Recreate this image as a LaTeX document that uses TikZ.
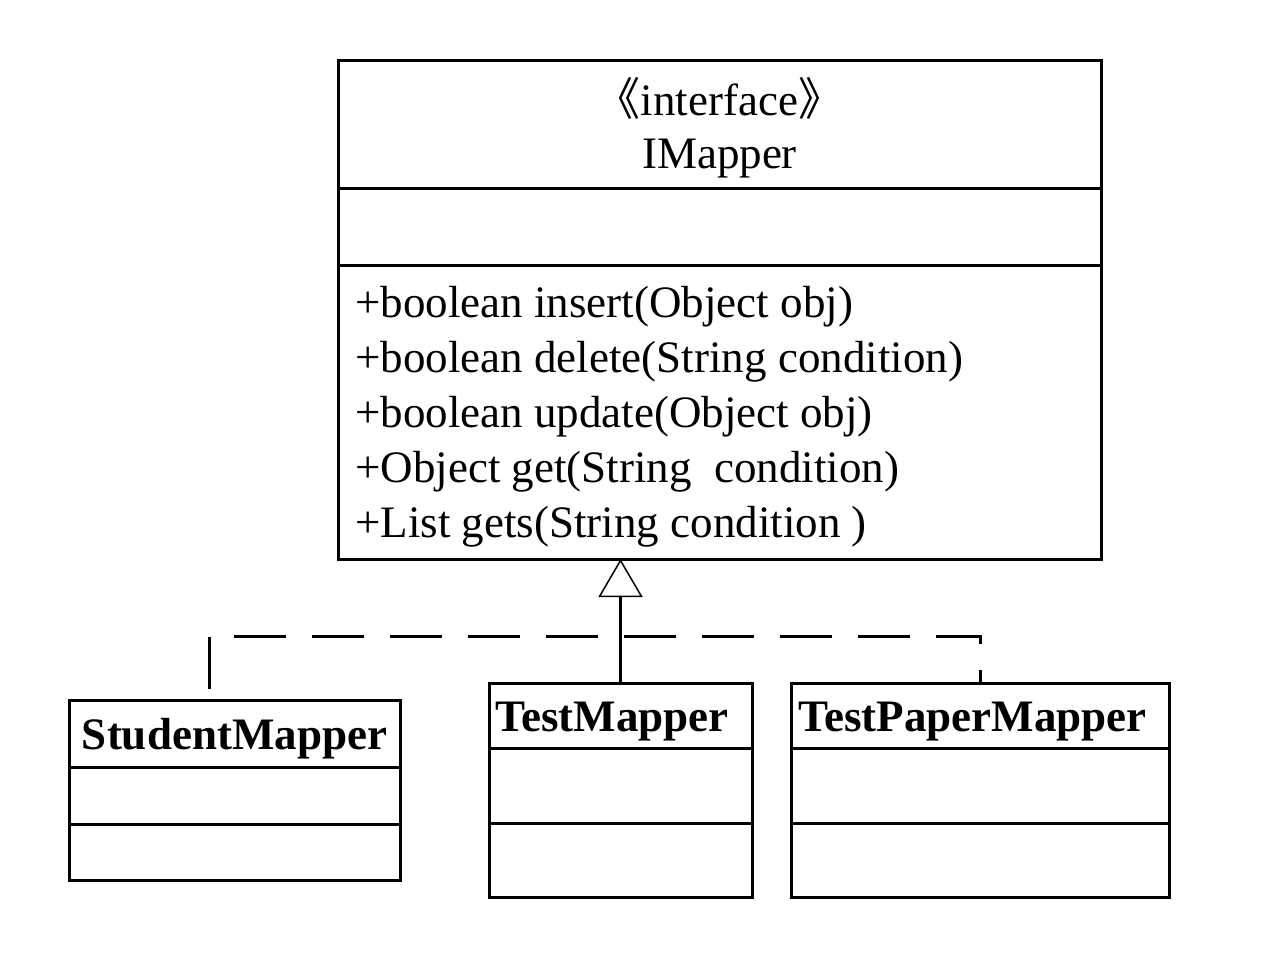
\documentclass[tikz,border=0pt]{standalone}
\usepackage{fontspec}
\setmainfont{Liberation Serif}
\newfontfamily\cjk{Noto Sans CJK SC}
\usetikzlibrary{positioning,arrows.meta}

\begin{document}
\begin{tikzpicture}[x=1pt,y=-1pt,
  part/.style={rectangle,draw,line width=3pt,outer sep=0pt,inner sep=0pt},
  classname/.style={font=\fontsize{45}{54}\selectfont\bfseries,inner sep=0pt},
  font=\fontsize{45}{55}\selectfont]
\useasboundingbox (0,0) rectangle (1284,954);
% interface
\node [part,minimum width=763pt,minimum height=128pt,anchor=north west] (imhead) at (338,60) {};
\node [part,minimum width=763pt,minimum height=77pt,below=0pt of imhead] (imattr) {};
\node [part,minimum width=763pt,minimum height=294pt,below=0pt of imattr] (imops) {};
\node [align=center,inner sep=0pt,yshift=-4pt] (imtitle) at (imhead.center)
  {\kern-0.5em{\cjk 《}interface{\cjk 》}\kern-0.5em\\[-2pt]IMapper};
\node [align=left,inner sep=0pt,anchor=west,xshift=17pt,yshift=-4.5pt] (imlist) at (imops.west)
  {+boolean insert(Object obj)\\
   +boolean delete(String condition)\\
   +boolean update(Object obj)\\
   +Object get(String~ condition)\\
   +List gets(String condition )};
% implementations
\node [part,minimum width=331pt,minimum height=67pt,anchor=north west] (studhead) at (69,700) {};
\node [part,minimum width=331pt,minimum height=57pt,below=0pt of studhead] (studattr) {};
\node [part,minimum width=331pt,minimum height=56pt,below=0pt of studattr] (studops) {};
\node [classname,yshift=-5pt] (studname) at (studhead.center) {StudentMapper};

\node [part,minimum width=263pt,minimum height=65pt,anchor=north west] (testhead) at (489,683) {};
\node [part,minimum width=263pt,minimum height=75pt,below=0pt of testhead] (testattr) {};
\node [part,minimum width=263pt,minimum height=74pt,below=0pt of testattr] (testops) {};
\node [classname,anchor=west,xshift=6pt,yshift=-6pt] (testname) at (testhead.west) {TestMapper};

\node [part,minimum width=378pt,minimum height=65pt,anchor=north west] (tphead) at (791,683) {};
\node [part,minimum width=378pt,minimum height=75pt,below=0pt of tphead] (tpattr) {};
\node [part,minimum width=378pt,minimum height=74pt,below=0pt of tpattr] (tpops) {};
\node [classname,anchor=west,xshift=7pt,yshift=-6pt] (tpname) at (tphead.west) {TestPaperMapper};

% realization
\coordinate (sj) at (209,636);
\draw [line width=3pt,-{Triangle[open,width=44pt,length=38pt,line width=1.5pt]}] (testhead.north) -- (testhead.north |- imops.south);
\draw [line width=3pt,dash pattern=on 52pt off 26pt,dash phase=67pt] (sj |- studhead.north) -- (sj) -| (tphead.north);
\end{tikzpicture}
\end{document}
